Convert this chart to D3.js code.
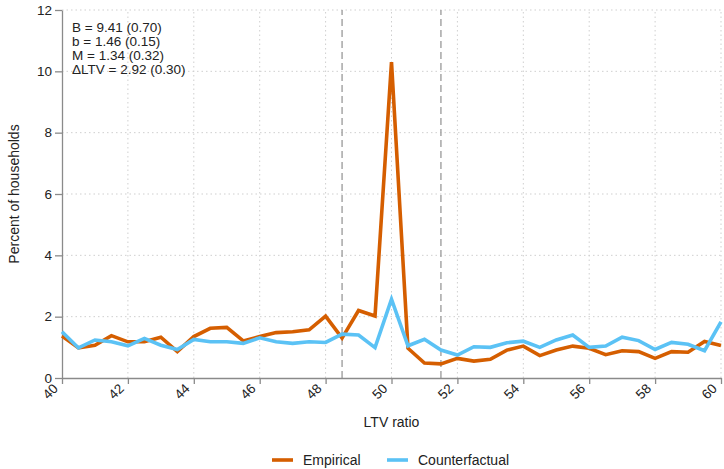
<!DOCTYPE html>
<html>
<head>
<meta charset="utf-8">
<script src="https://cdn.jsdelivr.net/npm/d3@7"></script>
<style>
  html, body { margin: 0; padding: 0; background: #fff; }
  svg { display: block; font-family: "Liberation Sans", Arial, Helvetica, sans-serif; }
</style>
</head>
<body>
<svg id="chart" width="724" height="469"></svg>
<script>
// LTV ratio bins (0.5 steps)
const ltv = [40, 40.5, 41, 41.5, 42, 42.5, 43, 43.5, 44, 44.5, 45, 45.5, 46, 46.5, 47, 47.5,
  48, 48.5, 49, 49.5, 50, 50.5, 51, 51.5, 52, 52.5, 53, 53.5, 54, 54.5, 55, 55.5,
  56, 56.5, 57, 57.5, 58, 58.5, 59, 59.5, 60];

// Percent of households per bin
const empirical = [1.37, 0.98, 1.07, 1.38, 1.18, 1.18, 1.33, 0.86, 1.35, 1.62, 1.65, 1.21, 1.35, 1.48, 1.51, 1.57,
  2.02, 1.30, 2.20, 2.02, 10.30, 0.97, 0.49, 0.46, 0.64, 0.55, 0.61, 0.91, 1.04, 0.73, 0.91, 1.04,
  0.97, 0.76, 0.89, 0.86, 0.64, 0.86, 0.84, 1.19, 1.06];

const counterfactual = [1.51, 0.98, 1.24, 1.18, 1.05, 1.29, 1.07, 0.93, 1.26, 1.18, 1.18, 1.13, 1.31, 1.18, 1.13, 1.18,
  1.16, 1.43, 1.40, 0.99, 2.57, 1.05, 1.26, 0.91, 0.75, 1.02, 1.00, 1.15, 1.20, 1.00, 1.24, 1.40,
  1.00, 1.04, 1.33, 1.22, 0.93, 1.16, 1.10, 0.89, 1.83];

const xTicks = [40, 42, 44, 46, 48, 50, 52, 54, 56, 58, 60];
const yTicks = [0, 2, 4, 6, 8, 10, 12];
const bunchingBounds = [48.5, 51.5];
const estimates = ["B = 9.41 (0.70)", "b = 1.46 (0.15)", "M = 1.34 (0.32)", "\u0394LTV = 2.92 (0.30)"];

const series = [
  { name: "Empirical", values: empirical, color: "#d55e00" },
  { name: "Counterfactual", values: counterfactual, color: "#5bc2f5" }
];

const svg = d3.select("#chart");
const margin = { left: 62, right: 3, top: 10, bottom: 91 };
const W = 724, H = 469;

const x = d3.scaleLinear().domain([40, 60]).range([margin.left, W - margin.right]);
const y = d3.scaleLinear().domain([0, 12]).range([H - margin.bottom, margin.top]);

// grid
const grid = svg.append("g");
grid.selectAll(".gy").data(yTicks.filter(d => d > 0)).join("line")
  .attr("x1", x(40)).attr("x2", x(60))
  .attr("y1", d => y(d)).attr("y2", d => y(d))
  .attr("stroke", "#cfcfcf").attr("stroke-width", 1).attr("stroke-dasharray", "1.5,3");
grid.selectAll(".gx").data(xTicks.filter(d => d > 40)).join("line")
  .attr("x1", d => x(d)).attr("x2", d => x(d))
  .attr("y1", y(0)).attr("y2", y(12))
  .attr("stroke", "#cfcfcf").attr("stroke-width", 1).attr("stroke-dasharray", "1.5,3");

// bunching window bounds
svg.append("g").selectAll("line").data(bunchingBounds).join("line")
  .attr("x1", d => x(d)).attr("x2", d => x(d))
  .attr("y1", y(0)).attr("y2", y(12))
  .attr("stroke", "#a0a0a0").attr("stroke-width", 1.4).attr("stroke-dasharray", "7,4");

// axes
const xAxis = svg.append("g").attr("transform", `translate(0,${y(0)})`)
  .call(d3.axisBottom(x).tickValues(xTicks).tickSize(6).tickSizeOuter(0).tickFormat(d3.format("d")));
xAxis.select(".domain").attr("stroke", "#8a8a8a").attr("stroke-width", 1.3);
xAxis.selectAll(".tick line").attr("stroke", "#8a8a8a").attr("stroke-width", 1.3);
xAxis.selectAll(".tick text")
  .attr("font-size", 13.5).attr("fill", "#222")
  .attr("text-anchor", "end")
  .attr("transform", "translate(-7,8) rotate(-45)")
  .attr("dy", "0.35em").attr("y", 0).attr("x", 0);

const yAxis = svg.append("g").attr("transform", `translate(${x(40)},0)`)
  .call(d3.axisLeft(y).tickValues(yTicks).tickSize(7).tickSizeOuter(0).tickFormat(d3.format("d")));
yAxis.select(".domain").attr("stroke", "#8a8a8a").attr("stroke-width", 1.3);
yAxis.selectAll(".tick line").attr("stroke", "#8a8a8a").attr("stroke-width", 1.3);
yAxis.selectAll(".tick text").attr("font-size", 13.5).attr("fill", "#222").attr("x", -10);

// lines
const line = d3.line().x((d, i) => x(ltv[i])).y(d => y(d));
svg.append("g").selectAll("path").data(series).join("path")
  .attr("d", d => line(d.values))
  .attr("fill", "none")
  .attr("stroke", d => d.color)
  .attr("stroke-width", 3.6)
  .attr("stroke-linejoin", "miter");

// estimates box
svg.append("g").selectAll("text").data(estimates).join("text")
  .attr("x", 72).attr("y", (d, i) => 32 + i * 14)
  .attr("font-size", 13.5).attr("fill", "#222")
  .text(d => d);

// axis titles
svg.append("text").attr("x", (x(40) + x(60)) / 2).attr("y", 427)
  .attr("text-anchor", "middle").attr("font-size", 14).attr("fill", "#222").text("LTV ratio");
svg.append("text").attr("transform", `translate(19,${y(6)}) rotate(-90)`)
  .attr("text-anchor", "middle").attr("font-size", 14).attr("fill", "#222").text("Percent of households");

// legend
const legend = svg.append("g");
const legendPos = [272, 387];
series.forEach((s, i) => {
  const g = legend.append("g").attr("transform", `translate(${legendPos[i]},460)`);
  g.append("line").attr("x1", 0).attr("x2", 21).attr("y1", 0).attr("y2", 0)
    .attr("stroke", s.color).attr("stroke-width", 3.6);
  g.append("text").attr("x", 31).attr("y", 0).attr("dy", "0.36em")
    .attr("font-size", 14).attr("fill", "#222").text(s.name);
});
</script>
</body>
</html>
